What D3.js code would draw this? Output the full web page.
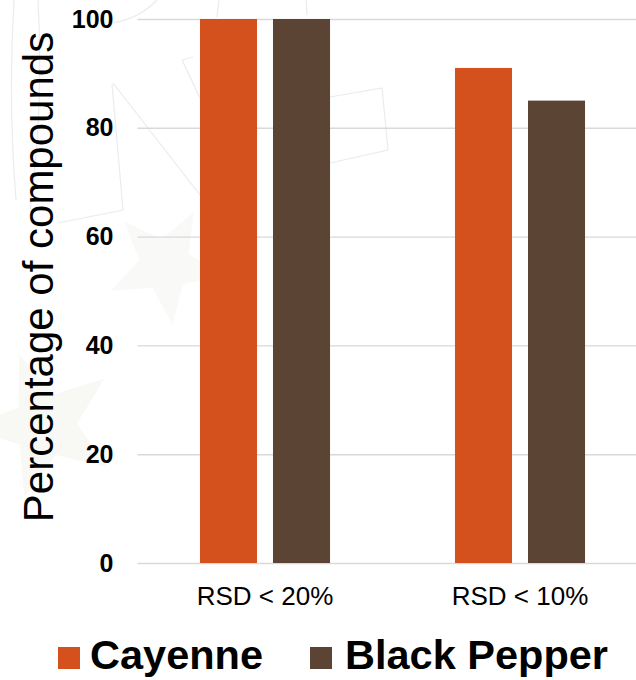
<!DOCTYPE html>
<html>
<head>
<meta charset="utf-8">
<script src="https://cdn.jsdelivr.net/npm/d3@7"></script>
<style>
  html, body { margin: 0; padding: 0; background: #ffffff; }
  svg { display: block; font-family: "Liberation Sans", Arial, Helvetica, sans-serif; }
</style>
</head>
<body>
<svg id="chart" width="636" height="680"></svg>
<script>
// Categories, series and values
const categories = ["RSD < 20%", "RSD < 10%"];
const seriesNames = ["Cayenne", "Black Pepper"];
const cayenneValues = [100, 91];
const blackPepperValues = [100, 85];
const yTicks = [0, 20, 40, 60, 80, 100];
const yTitle = "Percentage of compounds";
const seriesColors = ["#d4501c", "#5c4435"];

const seriesValues = [cayenneValues, blackPepperValues];

const svg = d3.select("#chart");
const W = 636, H = 680;
const plot = { left: 137.5, right: 647.5, top: 19, bottom: 563 };

// Faint decorative backdrop sketch
const deco = svg.append("g").attr("class", "backdrop");
const starPath = (cx, cy, R, r, rot) => {
  const pts = d3.range(10).map(k => {
    const a = rot + k * Math.PI / 5;
    const rad = k % 2 === 0 ? R : r;
    return [cx + rad * Math.sin(a), cy - rad * Math.cos(a)];
  });
  return "M" + pts.join("L") + "Z";
};
deco.append("path").attr("d", starPath(45, 425, 75, 32, -0.35)).attr("fill", "#f8f8f5");
deco.append("path").attr("d", starPath(165, 265, 60, 26, 0.5)).attr("fill", "#f9f9f7");
const sketch = [
  "M112,84 L123,210 L58,223",
  "M113,83 L200,195",
  "M330,97 L382,88 L388,150 L330,163",
  "M182,60 L193,57",
  "M182,60 L200,98",
  "M113,23 Q140,18 157,0",
  "M217,17 L219,0",
  "M307,15 L306,0",
  "M14,0 Q8,100 16,200",
  "M38,0 Q44,110 30,210"
];
deco.selectAll("path.sk")
  .data(sketch)
  .join("path")
  .attr("class", "sk")
  .attr("d", d => d)
  .attr("fill", "none")
  .attr("stroke", "#e8ebef")
  .attr("stroke-width", 1.2);

const x0 = d3.scaleBand()
  .domain(categories)
  .range([plot.left, plot.right])
  .paddingInner(0.49)
  .paddingOuter(0.245);

const x1 = d3.scaleBand()
  .domain(seriesNames)
  .range([0, x0.bandwidth()])
  .paddingInner(0.219);

const y = d3.scaleLinear().domain([0, 100]).range([plot.bottom, plot.top]);

const color = d3.scaleOrdinal().domain(seriesNames).range(seriesColors);

// Gridlines and y tick labels
const yAxis = svg.append("g")
  .attr("transform", `translate(${plot.left},0)`)
  .call(d3.axisLeft(y).tickValues(yTicks).tickSize(-(W - plot.left)).tickPadding(24));
yAxis.select(".domain").remove();
yAxis.selectAll(".tick line").attr("stroke", "#d9d9d9").attr("stroke-width", 1.4);
yAxis.selectAll(".tick text")
  .attr("fill", "#000")
  .style("font-size", "25px")
  .style("font-weight", "bold")
  .style("font-family", "'Liberation Sans', Arial, sans-serif");

// Category labels
const xAxis = svg.append("g")
  .attr("transform", `translate(0,${plot.bottom})`)
  .call(d3.axisBottom(x0).tickSize(0).tickPadding(24));
xAxis.select(".domain").remove();
xAxis.selectAll(".tick text")
  .attr("fill", "#000")
  .style("font-size", "26px")
  .style("font-family", "'Liberation Sans', Arial, sans-serif");

// Bars
const rows = categories.map((c, i) => ({
  category: c,
  values: seriesNames.map((s, j) => ({ series: s, value: seriesValues[j][i] }))
}));

svg.append("g")
  .selectAll("g")
  .data(rows)
  .join("g")
  .attr("transform", d => `translate(${x0(d.category)},0)`)
  .selectAll("rect")
  .data(d => d.values)
  .join("rect")
  .attr("x", d => x1(d.series))
  .attr("width", x1.bandwidth())
  .attr("y", d => y(d.value))
  .attr("height", d => y(0) - y(d.value))
  .attr("fill", d => color(d.series));

// Y axis title
svg.append("text")
  .attr("transform", "rotate(-90)")
  .attr("x", -277)
  .attr("y", 53)
  .attr("text-anchor", "middle")
  .style("font-size", "42px")
  .attr("fill", "#000")
  .text(yTitle);

// Legend
const legendX = [58, 310];
const legend = svg.append("g")
  .selectAll("g")
  .data(seriesNames)
  .join("g")
  .attr("transform", (d, i) => `translate(${legendX[i]},647)`);
legend.append("rect")
  .attr("width", 22)
  .attr("height", 22)
  .attr("fill", d => color(d));
legend.append("text")
  .attr("x", (d, i) => i === 0 ? 32 : 35)
  .attr("y", 22)
  .style("font-size", "41.5px")
  .style("font-weight", "bold")
  .attr("fill", "#000")
  .text(d => d);
</script>
</body>
</html>
